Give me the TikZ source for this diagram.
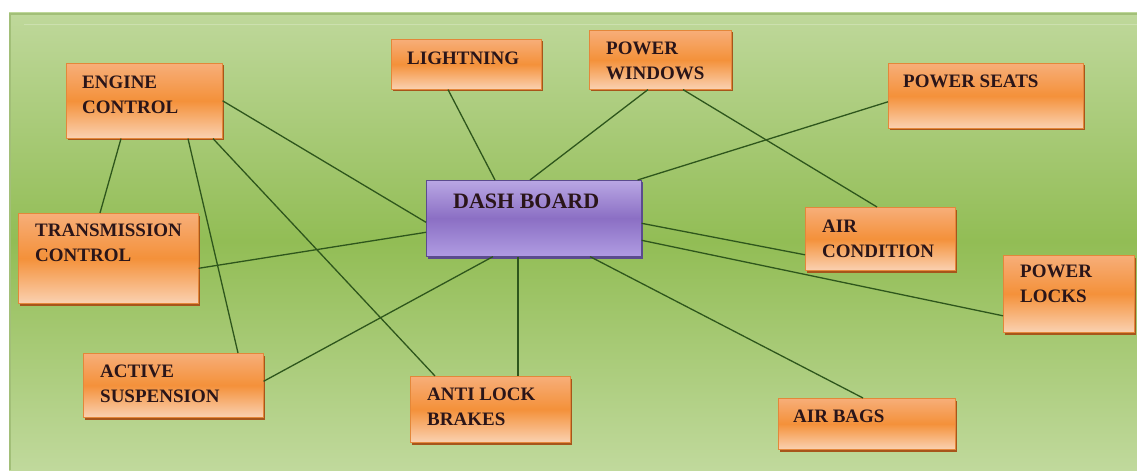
\documentclass[tikz,border=0pt]{standalone}
\usepackage{fontspec}
\setmainfont{Liberation Serif}
\usepackage{tikz}
\usetikzlibrary{shadows}
\definecolor{bgtop}{HTML}{BFD89B}
\definecolor{bgmid}{HTML}{92BD55}
\definecolor{bgbot}{HTML}{C0D99C}
\definecolor{bgedge}{HTML}{A2BF78}
\definecolor{orgtop}{HTML}{F7AE79}
\definecolor{orgmid}{HTML}{F4913A}
\definecolor{orgbot}{HTML}{FAD1B1}
\definecolor{orgedge}{HTML}{E3873A}
\definecolor{orgshadow}{HTML}{A7551B}
\definecolor{purtop}{HTML}{B9A7E4}
\definecolor{purmid}{HTML}{8B6FC4}
\definecolor{purbot}{HTML}{B09CE2}
\definecolor{puredge}{HTML}{5B4C8E}
\definecolor{txtc}{HTML}{2A1519}
\definecolor{linkc}{HTML}{2E561C}
\tikzset{
    partbox/.style={
        draw=orgedge,
        line width=0.6pt,
        inner sep=0pt,
        anchor=north west,
        top color=orgtop,
        bottom color=orgbot,
        middle color=orgmid,
        general shadow={fill=orgshadow, shadow xshift=1.3pt, shadow yshift=-2.2pt}
    },
    hubbox/.style={
        partbox,
        draw=puredge,
        top color=purtop,
        bottom color=purbot,
        middle color=purmid,
        general shadow={fill=puredge, shadow xshift=1.3pt, shadow yshift=-2.2pt}
    },
    partlbl/.style={
        font=\fontsize{19}{25}\selectfont\bfseries,
        text=txtc,
        align=left,
        inner sep=0pt,
        anchor=north west
    },
    link/.style={
        draw=linkc,
        line width=1.3pt
    }
}

\begin{document}
\begin{tikzpicture}
[
    x=1pt,
    y=-1pt,
]
\useasboundingbox (0,0) rectangle (1137,473);
\fill[white] (0,0) rectangle (1137,473);
\shade[top color=bgtop, bottom color=bgbot, middle color=bgmid] (9,13) rectangle (1137,470);
\draw[bgedge, line width=1.5pt] (10,470) |- (1137,14);
\draw[white!20!bgtop, line width=1pt] (24,25) -- (1137,25);

\node[partbox, minimum width=156, minimum height=75] (eng) at (66,63) {};
\node[partbox, minimum width=180, minimum height=90] (trans) at (18,213) {};
\node[partbox, minimum width=180, minimum height=64] (act) at (83,353) {};
\node[partbox, minimum width=150, minimum height=50] (light) at (391,39) {};
\node[partbox, minimum width=142, minimum height=59] (pw) at (589,30) {};
\node[partbox, minimum width=195, minimum height=65] (ps) at (888,63) {};
\node[hubbox, minimum width=215, minimum height=76] (dash) at (426,180) {};
\node[partbox, minimum width=150, minimum height=63] (ac) at (805,207) {};
\node[partbox, minimum width=131, minimum height=77] (pl) at (1003,255) {};
\node[partbox, minimum width=160, minimum height=66] (anti) at (410,376) {};
\node[partbox, minimum width=177, minimum height=51] (ab) at (778,398) {};

\node[partlbl] (engtxt) at ([xshift=16,yshift=-13]eng.north west) {ENGINE\\CONTROL};
\node[partlbl] (transtxt) at ([xshift=17,yshift=-11]trans.north west) {TRANSMISSION\\CONTROL};
\node[partlbl] (acttxt) at ([xshift=17,yshift=-12]act.north west) {ACTIVE\\SUSPENSION};
\node[partlbl] (lighttxt) at ([xshift=16,yshift=-13]light.north west) {LIGHTNING};
\node[partlbl] (pwtxt) at ([xshift=17,yshift=-12]pw.north west) {POWER\\WINDOWS};
\node[partlbl] (pstxt) at ([xshift=15,yshift=-12]ps.north west) {POWER SEATS};
\node[partlbl, font=\fontsize{22}{27}\selectfont\bfseries] (dashtxt) at ([xshift=27,yshift=-14]dash.north west) {DASH BOARD};
\node[partlbl] (actxt) at ([xshift=17,yshift=-13]ac.north west) {AIR\\CONDITION};
\node[partlbl] (pltxt) at ([xshift=17,yshift=-10]pl.north west) {POWER\\LOCKS};
\node[partlbl] (antitxt) at ([xshift=17,yshift=-12]anti.north west) {ANTI LOCK\\BRAKES};
\node[partlbl] (abtxt) at ([xshift=15,yshift=-12]ab.north west) {AIR BAGS};

\draw[link] (eng.east) -- ([yshift=-4]dash.west);
\draw[link] ([xshift=55]eng.south west) -- ([xshift=82]trans.north west);
\draw[link] ([xshift=122]eng.south west) -- ([xshift=155]act.north west);
\draw[link] ([xshift=147]eng.south west) -- ([xshift=25]anti.north west);
\draw[link] ([yshift=-10]trans.east) -- ([yshift=-14]dash.west);
\draw[link] ([yshift=4]act.east) -- ([xshift=67]dash.south west);
\draw[link] ([xshift=92]dash.south west) -- ([xshift=108]anti.north west);
\draw[link] ([xshift=57]light.south west) -- ([xshift=69]dash.north west);
\draw[link] ([xshift=59]pw.south west) -- ([xshift=104]dash.north west);
\draw[link] ([xshift=94]pw.south west) -- ([xshift=72]ac.north west);
\draw[link] ([yshift=-6]ps.west) -- ([xshift=-4]dash.north east);
\draw[link] ([yshift=-5]dash.east) -- ([yshift=-16]ac.west);
\draw[link] ([yshift=-22]dash.east) -- ([yshift=-22]pl.west);
\draw[link] ([xshift=164]dash.south west) -- ([xshift=85]ab.north west);
\end{tikzpicture}
\end{document}
